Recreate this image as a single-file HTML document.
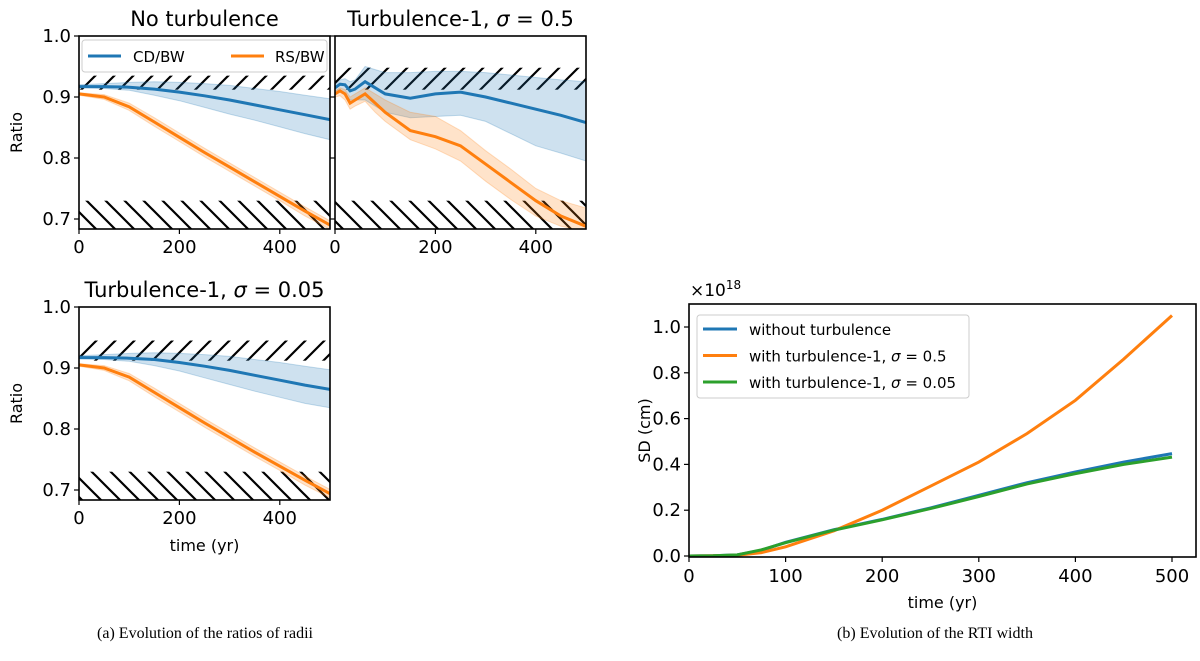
<!DOCTYPE html>
<html><head><meta charset="utf-8"><style>
body{margin:0;background:#fff;width:1200px;height:656px;overflow:hidden}
svg text{font-family:"DejaVu Sans","Liberation Sans",sans-serif;fill:#000}
</style></head><body>
<svg id="fig" width="1200" height="656" viewBox="0 0 1200 656" xmlns="http://www.w3.org/2000/svg">
<defs>
<pattern id="hf" patternUnits="userSpaceOnUse" width="19" height="19">
<path d="M-5,24 L24,-5 M-5,5 L5,-5 M14,24 L24,14" stroke="#000" stroke-width="2.2"/></pattern>
<pattern id="hb" patternUnits="userSpaceOnUse" width="19" height="19">
<path d="M-5,-5 L24,24 M14,-5 L24,5 M-5,14 L5,24" stroke="#000" stroke-width="2.2"/></pattern>
</defs>
<g id="root"></g>
<text x="205" y="638" text-anchor="middle" style="font-family:'Liberation Serif',serif;font-size:16px">(a)  Evolution of the ratios of radii</text>
<text x="935" y="638" text-anchor="middle" style="font-family:'Liberation Serif',serif;font-size:16px">(b)  Evolution of the RTI width</text>
</svg>
<script>
// Panel A data (ratio vs time)
const tA1 = [0,50,100,150,200,250,300,350,400,450,500];
const cd1 = [0.917,0.917,0.916,0.913,0.908,0.902,0.895,0.887,0.879,0.871,0.863];
const cd1Lo = [0.915,0.914,0.911,0.903,0.894,0.883,0.872,0.862,0.851,0.840,0.830];
const cd1Hi = [0.920,0.922,0.924,0.925,0.924,0.922,0.919,0.914,0.909,0.903,0.897];
const rs1 = [0.905,0.900,0.884,0.859,0.834,0.809,0.785,0.761,0.737,0.713,0.690];
const rs1Lo = [0.903,0.896,0.878,0.852,0.827,0.802,0.778,0.754,0.730,0.705,0.683];
const rs1Hi = [0.907,0.904,0.890,0.866,0.841,0.816,0.792,0.768,0.744,0.720,0.697];

const tA2 = [0,10,20,30,40,60,80,100,150,200,250,300,350,400,450,500];
const cd2 = [0.915,0.921,0.920,0.910,0.913,0.925,0.915,0.905,0.898,0.905,0.908,0.900,0.890,0.880,0.870,0.858];
const cd2Lo = [0.910,0.912,0.905,0.895,0.895,0.895,0.885,0.875,0.866,0.868,0.870,0.860,0.840,0.820,0.808,0.795];
const cd2Hi = [0.920,0.928,0.930,0.925,0.928,0.950,0.945,0.940,0.940,0.942,0.942,0.940,0.936,0.932,0.928,0.925];
const rs2 = [0.905,0.910,0.905,0.890,0.895,0.905,0.890,0.875,0.845,0.835,0.820,0.790,0.760,0.730,0.705,0.688];
const rs2Lo = [0.900,0.902,0.895,0.880,0.885,0.893,0.875,0.860,0.830,0.815,0.795,0.762,0.732,0.705,0.688,0.680];
const rs2Hi = [0.910,0.915,0.912,0.900,0.905,0.915,0.905,0.895,0.875,0.868,0.845,0.812,0.782,0.750,0.730,0.718];

const tA3 = [0,50,100,150,200,250,300,350,400,450,500];
const cd3 = [0.917,0.917,0.916,0.914,0.909,0.903,0.896,0.888,0.880,0.872,0.865];
const cd3Lo = [0.915,0.914,0.911,0.904,0.895,0.884,0.873,0.862,0.852,0.842,0.835];
const cd3Hi = [0.920,0.922,0.924,0.925,0.924,0.922,0.919,0.914,0.909,0.903,0.897];
const rs3 = [0.905,0.900,0.885,0.860,0.835,0.810,0.786,0.762,0.739,0.716,0.694];
const rs3Lo = [0.903,0.896,0.879,0.853,0.828,0.803,0.779,0.755,0.732,0.708,0.687];
const rs3Hi = [0.907,0.904,0.891,0.867,0.842,0.817,0.793,0.769,0.746,0.723,0.701];

const ratioTicks = [0.7,0.8,0.9,1.0];
const ratioTickLabels = ["0.7","0.8","0.9","1.0"];
const timeTicksA = [0,200,400];

// Panel B data (SD, units of 1e18 cm)
const tB = [0,25,50,75,100,150,200,250,300,350,400,450,500];
const sdNoTurb = [0,0.001,0.005,0.025,0.060,0.115,0.160,0.210,0.265,0.320,0.367,0.410,0.447];
const sdTurb05 = [0,0.001,0.003,0.015,0.040,0.110,0.200,0.305,0.410,0.535,0.680,0.860,1.050];
const sdTurb005 = [0,0.001,0.005,0.027,0.058,0.113,0.158,0.207,0.260,0.315,0.360,0.400,0.432];
const sdTicks = [0,0.2,0.4,0.6,0.8,1.0];
const sdTickLabels = ["0.0","0.2","0.4","0.6","0.8","1.0"];
const timeTicksB = [0,100,200,300,400,500];

const NS="http://www.w3.org/2000/svg";
const root=document.getElementById('root');
function el(tag,attrs,parent){const e=document.createElementNS(NS,tag);for(const k in attrs)e.setAttribute(k,attrs[k]);(parent||root).appendChild(e);return e;}
const BLUE="#1f77b4",ORANGE="#ff7f0e",GREEN="#2ca02c";

function linePath(xs,ys,sx,sy){return xs.map((x,i)=>(i?'L':'M')+sx(x).toFixed(1)+','+sy(ys[i]).toFixed(1)).join(' ');}
function bandPath(xs,lo,hi,sx,sy){let d=xs.map((x,i)=>(i?'L':'M')+sx(x).toFixed(1)+','+sy(hi[i]).toFixed(1)).join(' ');for(let i=xs.length-1;i>=0;i--)d+='L'+sx(xs[i]).toFixed(1)+','+sy(lo[i]).toFixed(1);return d+'Z';}

function ratioPanel(name,x0,x1,yTop,title,hatchHi,t,cd,cdLo,cdHi,rs,rsLo,rsHi,showY,showLegend,showXLabel){
  const g=el('g',{});
  
  
  const yBot=yTop+193;
  const sx=v=>x0+(v/500)*(x1-x0);
  const sy=v=>yTop+(1-v)*610;
  const clipId='clip-'+name;
  const cp=el('clipPath',{id:clipId},g);el('rect',{x:x0,y:yTop,width:x1-x0,height:yBot-yTop},cp);
  const inner=el('g',{'clip-path':'url(#'+clipId+')'},g);
  const h1=el('rect',{x:x0,y:sy(hatchHi),width:x1-x0,height:sy(0.912)-sy(hatchHi),fill:'url(#hf)'},inner);
  
  
  const h2=el('rect',{x:x0,y:sy(0.730),width:x1-x0,height:yBot-sy(0.730),fill:'url(#hb)'},inner);
  
  
  const b1=el('path',{d:bandPath(t,cdLo,cdHi,sx,sy),fill:BLUE,'fill-opacity':0.22,stroke:BLUE,'stroke-opacity':0.25},inner);
  
  
  const b2=el('path',{d:bandPath(t,rsLo,rsHi,sx,sy),fill:ORANGE,'fill-opacity':0.22,stroke:ORANGE,'stroke-opacity':0.25},inner);
  
  
  const l1=el('path',{d:linePath(t,cd,sx,sy),fill:'none',stroke:BLUE,'stroke-width':3},inner);
  
  
  const l2=el('path',{d:linePath(t,rs,sx,sy),fill:'none',stroke:ORANGE,'stroke-width':3},inner);
  
  
  if(showLegend){
    const lg=el('g',{},g);
    
    
    el('rect',{x:x0+3,y:yTop+4,width:x1-x0-6,height:32,rx:3,fill:'#fff','fill-opacity':0.8,stroke:'#ccc'},lg);
    el('line',{x1:x0+9,y1:yTop+20,x2:x0+42,y2:yTop+20,stroke:BLUE,'stroke-width':3},lg);
    const a=el('text',{x:x0+54,y:yTop+26,'font-size':15},lg);a.textContent='CD/BW';
    
    
    el('line',{x1:x0+152,y1:yTop+20,x2:x0+185,y2:yTop+20,stroke:ORANGE,'stroke-width':3},lg);
    const b=el('text',{x:x0+196,y:yTop+26,'font-size':15},lg);b.textContent='RS/BW';
    
    
  }
  el('rect',{x:x0,y:yTop,width:x1-x0,height:yBot-yTop,fill:'none',stroke:'#000','stroke-width':1.6},g);
  const tt=el('text',{x:(x0+x1)/2,y:yTop-10,'text-anchor':'middle','font-size':21},g);
  tt.innerHTML=title;
  
  
  ratioTicks.forEach((v,i)=>{
    el('line',{x1:x0-5,y1:sy(v),x2:x0,y2:sy(v),stroke:'#000','stroke-width':1.2},g);
    if(showY){const tx=el('text',{x:x0-8,y:sy(v)+6,'text-anchor':'end','font-size':18},g);tx.textContent=ratioTickLabels[i];
      
      }
  });
  timeTicksA.forEach(v=>{
    el('line',{x1:sx(v),y1:yBot,x2:sx(v),y2:yBot+5,stroke:'#000','stroke-width':1.2},g);
    const tx=el('text',{x:sx(v),y:yBot+24,'text-anchor':'middle','font-size':18},g);tx.textContent=v;
    
    
  });
  if(showY){const yl=el('text',{x:0,y:0,'text-anchor':'middle','font-size':16,transform:`translate(22,${(yTop+yBot)/2}) rotate(-90)`},g);yl.textContent='Ratio';
    
    }
  if(showXLabel){const xl=el('text',{x:(x0+x1)/2,y:yBot+51,'text-anchor':'middle','font-size':16},g);xl.textContent='time (yr)';
    
    }
}
const sig='<tspan font-style="italic">σ</tspan>';
ratioPanel('panel-no-turbulence',79,330,36,'No turbulence',0.935,tA1,cd1,cd1Lo,cd1Hi,rs1,rs1Lo,rs1Hi,true,true,false);
ratioPanel('panel-turbulence-0-5',335,586,36,'Turbulence-1, '+sig+' = 0.5',0.948,tA2,cd2,cd2Lo,cd2Hi,rs2,rs2Lo,rs2Hi,false,false,false);
ratioPanel('panel-turbulence-0-05',79,330,307,'Turbulence-1, '+sig+' = 0.05',0.945,tA3,cd3,cd3Lo,cd3Hi,rs3,rs3Lo,rs3Hi,true,false,true);

// Panel B
(function(){
  const g=el('g',{});
  
  
  const x0=689,x1=1196,yTop=304,yBot=557;
  const sx=v=>x0+v*(1172-689)/500;
  const sy=v=>556-v*229;
  [[sdNoTurb,BLUE,'line-without-turbulence'],[sdTurb05,ORANGE,'line-turbulence-0-5'],[sdTurb005,GREEN,'line-turbulence-0-05']].forEach(([d,c,n])=>{
    const p=el('path',{d:linePath(tB,d,sx,sy),fill:'none',stroke:c,'stroke-width':3},g);
    
    
  });
  el('rect',{x:x0,y:yTop,width:x1-x0,height:yBot-yTop,fill:'none',stroke:'#000','stroke-width':1.6},g);
  sdTicks.forEach((v,i)=>{
    el('line',{x1:x0-5,y1:sy(v),x2:x0,y2:sy(v),stroke:'#000','stroke-width':1.2},g);
    const tx=el('text',{x:x0-8,y:sy(v)+6,'text-anchor':'end','font-size':18},g);tx.textContent=sdTickLabels[i];
    
    
  });
  timeTicksB.forEach(v=>{
    el('line',{x1:sx(v),y1:yBot,x2:sx(v),y2:yBot+5,stroke:'#000','stroke-width':1.2},g);
    const tx=el('text',{x:sx(v),y:yBot+25,'text-anchor':'middle','font-size':18},g);tx.textContent=v;
    
    
  });
  const off=el('text',{x:x0+1,y:yTop-8,'font-size':17},g);off.innerHTML='×10<tspan font-size="12" dy="-7">18</tspan>';
  
  
  const yl=el('text',{x:0,y:0,'text-anchor':'middle','font-size':16,transform:`translate(650,${(yTop+yBot)/2}) rotate(-90)`},g);yl.textContent='SD (cm)';
  
  
  const xl=el('text',{x:(x0+x1)/2,y:yBot+51,'text-anchor':'middle','font-size':16},g);xl.textContent='time (yr)';
  
  
  const lg=el('g',{},g);
  
  
  el('rect',{x:697,y:315,width:272,height:83,rx:3,fill:'#fff','fill-opacity':0.8,stroke:'#ccc'},lg);
  const items=[[BLUE,'without turbulence'],[ORANGE,'with turbulence-1, '+sig+' = 0.5'],[GREEN,'with turbulence-1, '+sig+' = 0.05']];
  items.forEach((it,i)=>{
    const y=329+i*26.5;
    el('line',{x1:703,y1:y,x2:737,y2:y,stroke:it[0],'stroke-width':3},lg);
    const t=el('text',{x:749,y:y+6,'font-size':15},lg);t.innerHTML=it[1];
    
    
  });
})();
</script>
</body></html>
